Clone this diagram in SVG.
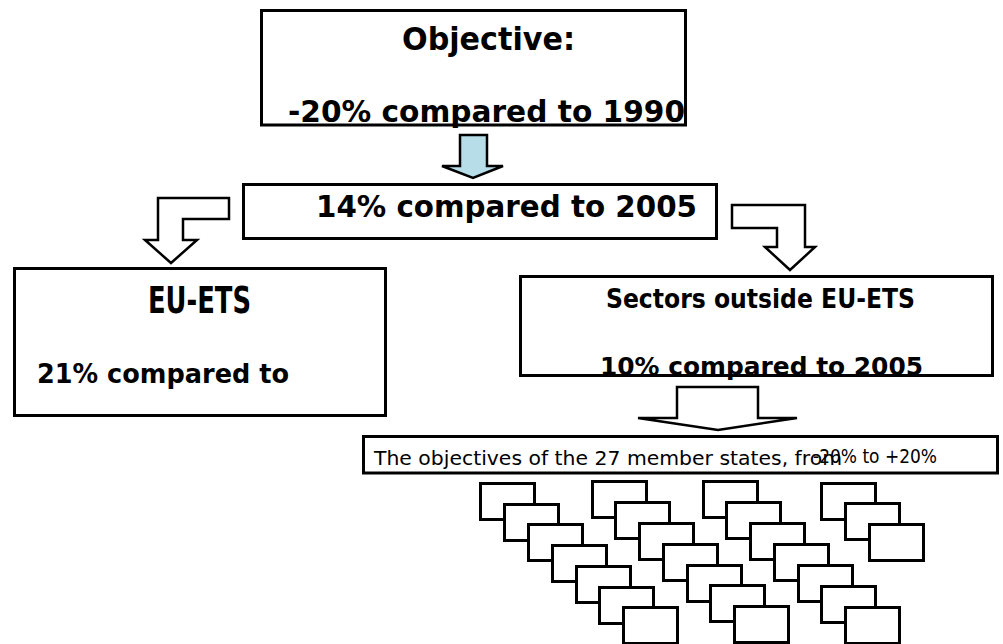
<svg xmlns="http://www.w3.org/2000/svg" width="1003" height="644" viewBox="0 0 1003 644">
<style>
.box{fill:#fff;stroke:#000;stroke-width:3}
.arrow{fill:#fff;stroke:#000;stroke-width:2.5;stroke-linejoin:miter}
.blue{fill:#B7DEE8}
.b{font-family:"DejaVu Sans","Liberation Sans",sans-serif;font-weight:bold;fill:#000}
.r{font-family:"DejaVu Sans","Liberation Sans",sans-serif;font-weight:normal;fill:#000;font-size:20px}
.mb{fill:#fff;stroke:#000;stroke-width:3}
</style>
<rect width="1003" height="644" fill="#fff"/>
<g id="node-objective">
<rect class="box" x="261.5" y="10.5" width="424" height="114.5"/>
<text class="b" x="402" y="50" font-size="32" textLength="173" lengthAdjust="spacingAndGlyphs">Objective:</text>
<text class="b" x="288" y="122" font-size="30" textLength="397" lengthAdjust="spacingAndGlyphs">-20% compared to 1990</text>
</g>
<g id="node-2005">
<rect class="box" x="243.5" y="184.5" width="473" height="54"/>
<text class="b" x="316" y="217" font-size="31" textLength="381" lengthAdjust="spacingAndGlyphs">14% compared to 2005</text>
</g>
<g id="node-euets">
<rect class="box" x="14.5" y="268.5" width="371" height="147"/>
<text class="b" x="148" y="313" font-size="38" textLength="103" lengthAdjust="spacingAndGlyphs">EU-ETS</text>
<text class="b" x="37" y="383" font-size="26" textLength="252" lengthAdjust="spacingAndGlyphs">21% compared to</text>
</g>
<g id="node-sectors">
<rect class="box" x="520.5" y="276.5" width="472" height="99"/>
<text class="b" x="606" y="308" font-size="26" textLength="309" lengthAdjust="spacingAndGlyphs">Sectors outside EU-ETS</text>
<text class="b" x="600" y="375" font-size="25" textLength="323" lengthAdjust="spacingAndGlyphs">10% compared to 2005</text>
</g>
<g id="node-states">
<rect class="box" x="363.5" y="436.5" width="634" height="36.5"/>
<text class="r" x="374" y="465" textLength="468" lengthAdjust="spacingAndGlyphs">The objectives of the 27 member states,  from</text>
<text class="r" x="813" y="463" textLength="124" lengthAdjust="spacingAndGlyphs">-20% to +20%</text>
</g>
<g id="node-member-boxes">
<g id="col1">
<rect class="mb" x="480.5" y="483.5" width="54" height="36"/>
<rect class="mb" x="504.5" y="504.5" width="54" height="36"/>
<rect class="mb" x="528.5" y="524.5" width="54" height="36"/>
<rect class="mb" x="552.5" y="545.5" width="54" height="36"/>
<rect class="mb" x="576.5" y="566.5" width="54" height="36"/>
<rect class="mb" x="599.5" y="587.5" width="54" height="36"/>
<rect class="mb" x="623.5" y="607.5" width="54" height="36"/>
</g>
<g id="col2">
<rect class="mb" x="592.5" y="481.5" width="54" height="36"/>
<rect class="mb" x="615.5" y="502.5" width="54" height="36"/>
<rect class="mb" x="639.5" y="523.5" width="54" height="36"/>
<rect class="mb" x="663.5" y="544.5" width="54" height="36"/>
<rect class="mb" x="687.5" y="565.5" width="54" height="36"/>
<rect class="mb" x="710.5" y="585.5" width="54" height="36"/>
<rect class="mb" x="734.5" y="606.5" width="54" height="36"/>
</g>
<g id="col3">
<rect class="mb" x="703.5" y="481.5" width="54" height="36"/>
<rect class="mb" x="726.5" y="502.5" width="54" height="36"/>
<rect class="mb" x="750.5" y="523.5" width="54" height="36"/>
<rect class="mb" x="774.5" y="544.5" width="54" height="36"/>
<rect class="mb" x="798.5" y="565.5" width="54" height="36"/>
<rect class="mb" x="821.5" y="586.5" width="54" height="36"/>
<rect class="mb" x="845.5" y="607.5" width="54" height="36"/>
</g>
<g id="col4">
<rect class="mb" x="821.5" y="483.5" width="54" height="36"/>
<rect class="mb" x="845.5" y="503.5" width="54" height="36"/>
<rect class="mb" x="869.5" y="524.5" width="54" height="36"/>
</g>
</g>
<g id="connectors">
<path class="arrow blue" d="M460,135 L487,135 L487,166 L503,166 L473,178 L442,166 L460,166 Z"/>
<path class="arrow" d="M229,198 L158,198 L158,240 L145,240 L171,263 L197,240 L183,240 L183,219 L229,219 Z"/>
<path class="arrow" d="M732,205 L805,205 L805,247 L815,247 L790,270 L765,247 L777,247 L777,228 L732,228 Z"/>
<path class="arrow" d="M677,387 L758,387 L758,418 L797,418 L718,430 L638,418 L677,418 Z"/>
</g>
</svg>
